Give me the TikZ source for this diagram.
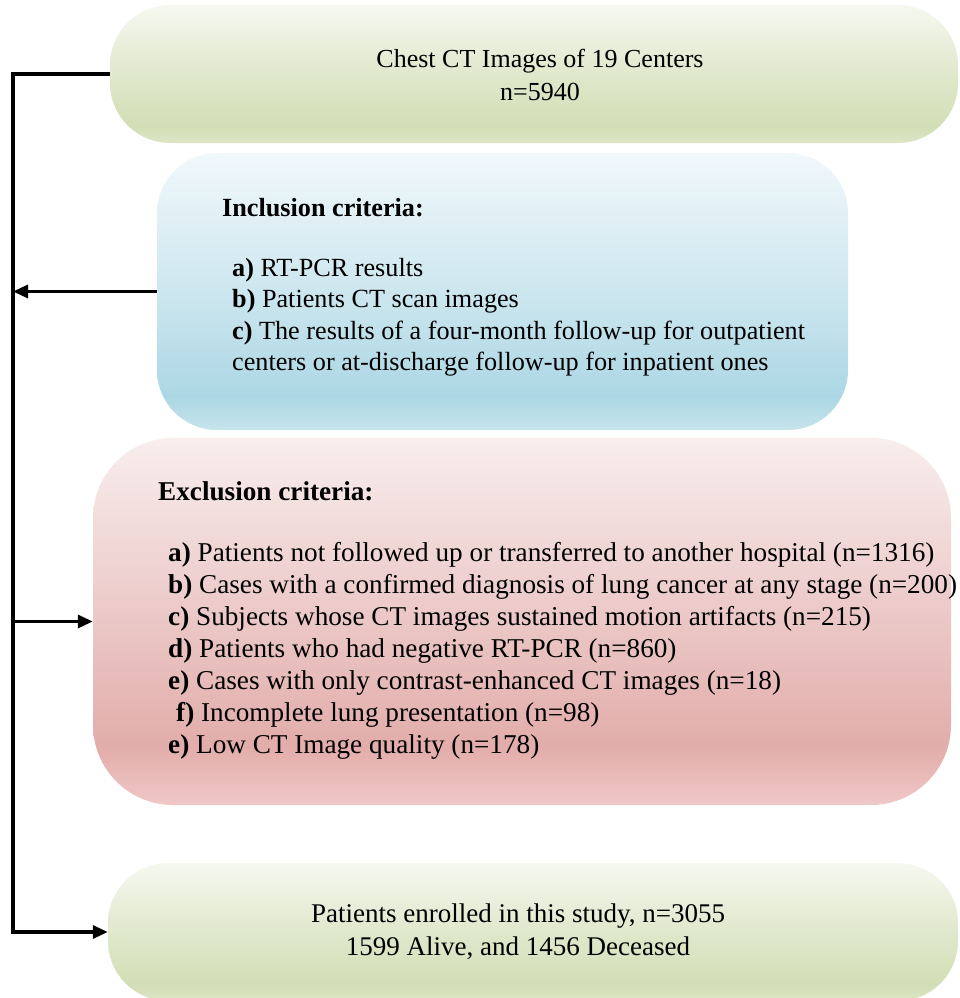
\documentclass[tikz,border=0pt]{standalone}
\usepackage{fontspec}
\setmainfont{Liberation Serif}
\usetikzlibrary{arrows.meta}

\definecolor{greentop}{RGB}{246,248,240}
\definecolor{greenmid}{RGB}{226,233,207}
\definecolor{greendeep}{RGB}{210,222,181}
\definecolor{greenedge}{RGB}{221,230,199}
\definecolor{bluetop}{RGB}{241,248,251}
\definecolor{bluemid}{RGB}{208,232,240}
\definecolor{bluedeep}{RGB}{172,215,228}
\definecolor{blueedge}{RGB}{198,228,236}
\definecolor{redtop}{RGB}{248,238,237}
\definecolor{redmid}{RGB}{237,207,206}
\definecolor{reddeep}{RGB}{226,173,170}
\definecolor{rededge}{RGB}{239,200,199}

% shadings run bottom (25bp) to top (75bp)
\pgfdeclareverticalshading{greenfade}{100bp}{color(0bp)=(greenedge); color(25bp)=(greenedge); color(31bp)=(greendeep); color(52bp)=(greenmid); color(75bp)=(greentop); color(100bp)=(greentop)}
\pgfdeclareverticalshading{bluefade}{100bp}{color(0bp)=(blueedge); color(25bp)=(blueedge); color(31bp)=(bluedeep); color(52bp)=(bluemid); color(75bp)=(bluetop); color(100bp)=(bluetop)}
\pgfdeclareverticalshading{redfade}{100bp}{color(0bp)=(rededge); color(25bp)=(rededge); color(33bp)=(reddeep); color(55bp)=(redmid); color(75bp)=(redtop); color(100bp)=(redtop)}

\tikzset{
	box/.style={shade, draw=none, inner sep=0pt, rounded corners=60pt},
	trunk/.style={line width=3.2pt},
	flow/.style={trunk, -{Triangle[length=15pt, width=13pt]}},
	item/.style={anchor=base west, inner sep=0pt},
	title/.style={anchor=base, inner sep=0pt}
}

\begin{document}
\begin{tikzpicture}[x=1pt, y=-1pt]
	\useasboundingbox (0,0) rectangle (959,998);
	% boxes
	\node[box, shading=greenfade, minimum width=848, minimum height=138] (src) at (534,74) {};
	\node[box, shading=bluefade, minimum width=691, minimum height=277] (inc) at (502.5,291.5) {};
	\node[box, shading=redfade, minimum width=858, minimum height=367, rounded corners=80pt] (exc) at (522,621.5) {};
	\node[box, shading=greenfade, minimum width=850, minimum height=138] (enr) at (533,932) {};

	% texts
	\node[title, font=\fontsize{26}{33}\selectfont] (src-1) at (540,67) {Chest CT Images of 19 Centers};
	\node[title, font=\fontsize{26}{33}\selectfont] (src-2) at (540,100) {n=5940};

	\begin{scope}[every node/.append style={font=\fontsize{26.2}{32}\selectfont}]
		\node[item] (inc-0) at (222,216) {\textbf{Inclusion criteria:}};
		\foreach \lbl/\txt [count=\i] in {a)/RT-PCR results, b)/Patients CT scan images, c)/The results of a four-month follow-up for outpatient} {
			\node[item] (inc-\i) at (232,{276+31.5*(\i-1)}) {\textbf{\lbl} \txt};
		}
		\node[item] (inc-4) at (232,370.5) {centers or at-discharge follow-up for inpatient ones};
	\end{scope}

	\begin{scope}[every node/.append style={font=\fontsize{27.2}{32}\selectfont}]
		\node[item] (exc-0) at (158,500) {\textbf{Exclusion criteria:}};
		\foreach \lbl/\txt [count=\i] in {
				a)/Patients not followed up or transferred to another hospital (n=1316),
				b)/Cases with a confirmed diagnosis of lung cancer at any stage (n=200),
				c)/Subjects whose CT images sustained motion artifacts (n=215),
				d)/Patients who had negative RT-PCR (n=860),
				e)/Cases with only contrast-enhanced CT images (n=18),
				\hspace{8pt}f)/Incomplete lung presentation (n=98),
				e)/Low CT Image quality (n=178)} {
			\node[item] (exc-\i) at (168,{561+32*(\i-1)}) {\textbf{\lbl} \txt};
		}
	\end{scope}

	\node[title, font=\fontsize{27}{33}\selectfont] (enr-1) at (518,922) {Patients enrolled in this study, n=3055};
	\node[title, font=\fontsize{27}{33}\selectfont] (enr-2) at (518,955) {1599 Alive, and 1456 Deceased};

	% connectors
	\coordinate (spine-inc) at (13,291.5);
	\coordinate (spine-exc) at (13,621.5);
	\draw[flow] (src.west) -| (spine-exc) |- (enr.west);
	\draw[flow] (inc.west) -- (spine-inc);
	\draw[flow] (spine-exc) -- (exc.west);
\end{tikzpicture}
\end{document}
